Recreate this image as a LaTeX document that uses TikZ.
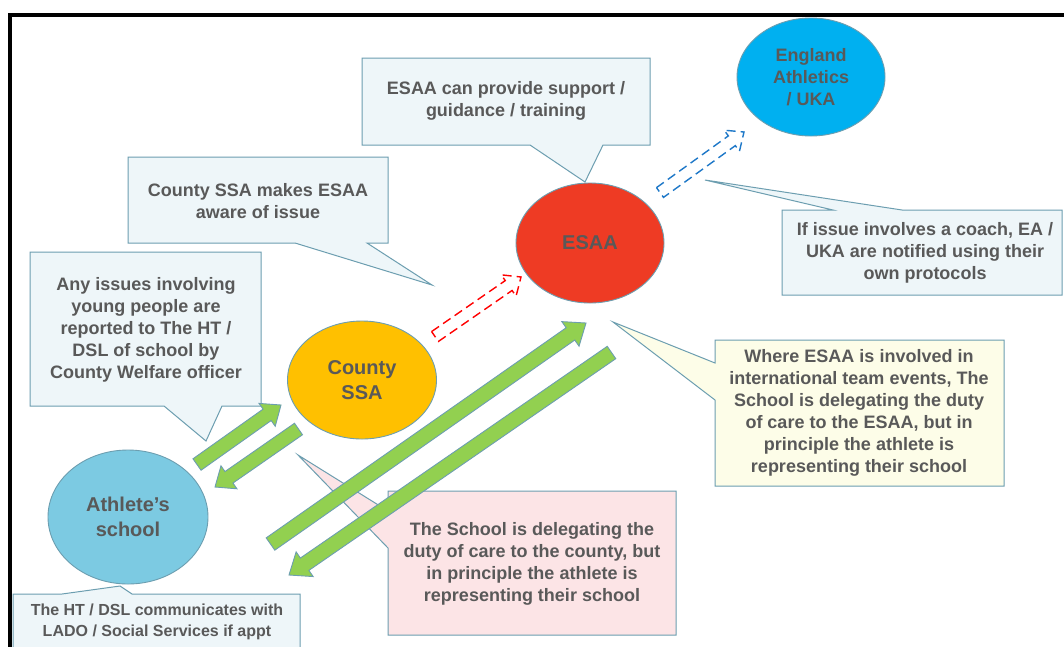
\documentclass[tikz,border=0pt]{standalone}
\usepackage{fontspec}
\setmainfont{Liberation Sans}
\usetikzlibrary{calc,shapes.geometric}
\definecolor{cfill}{RGB}{238,246,249}
\definecolor{cborder}{RGB}{108,158,176}
\definecolor{yfill}{RGB}{253,253,232}
\definecolor{pfill}{RGB}{252,228,230}
\definecolor{tgray}{RGB}{89,89,89}
\definecolor{agreen}{RGB}{146,208,80}
\definecolor{eablue}{RGB}{0,176,240}
\definecolor{esared}{RGB}{238,59,36}
\definecolor{cssa}{RGB}{255,192,0}
\definecolor{school}{RGB}{124,202,226}
\definecolor{dred}{RGB}{255,0,0}
\definecolor{dblue}{RGB}{30,120,200}
\newcommand\blockarr[6]{%
  \coordinate (hb) at ($(#2)!#5!(#1)$);
  \draw[#6] ($(#1)!#3!90:(#2)$) -- ($(hb)!#3!-90:(#1)$) -- ($(hb)!#4!-90:(#1)$) -- (#2)
    -- ($(hb)!#4!90:(#1)$) -- ($(hb)!#3!90:(#1)$) -- ($(#1)!#3!-90:(#2)$) -- cycle;}
\begin{document}
\begin{tikzpicture}[x=1pt,y=-1pt,
  callout/.style={draw=cborder,fill=cfill,line width=1pt,line join=miter},
  ctext/.style={text=tgray,font=\fontsize{18}{22}\selectfont\bfseries,align=center,inner sep=0pt},
  stext/.style={text=tgray,font=\fontsize{16}{21}\selectfont\bfseries,align=center,inner sep=0pt},
  ell/.style={ellipse,draw=cborder,line width=0.9pt,inner sep=0pt,text=tgray,align=center,
    font=\fontsize{20}{25}\selectfont\bfseries},
  garrow/.style={fill=agreen,draw=cborder,line width=0.9pt,line join=miter},
  darrow/.style={line width=1.4pt,dash pattern=on 9pt off 5pt,line join=miter}]
\useasboundingbox (0,0) rectangle (1064,646);
\clip (0,0) rectangle (1064,646);
\fill[white] (0,0) rectangle (1064,646);
\draw[line width=4pt] (10,680) -- (10,15) -- (1090,15);

% callouts
\draw[callout] (362,58) -- (650,58) -- (650,145) -- (603,145) -- (585,182) -- (530,145) -- (362,145) -- cycle;
\node[ctext] (c1) at (506,101) {ESAA can provide support /\\guidance / training};

\draw[callout] (128,157) -- (388,157) -- (388,243) -- (367,243) -- (432,285) -- (295,243) -- (128,243) -- cycle;
\node[ctext] (c2) at (258,201) {County SSA makes ESAA\\aware of issue};

\draw[callout] (30,252) -- (261,252) -- (261,406) -- (222,406) -- (206,441) -- (164,406) -- (30,406) -- cycle;
\node[ctext] (c3) at (146,330) {Any issues involving\\young people are\\reported to The HT /\\DSL of school by\\County Welfare officer};

\draw[callout] (782,210) -- (833,210) -- (705,180) -- (902,210) -- (1062,210) -- (1062,295) -- (782,295) -- cycle;
\node[ctext] (c4) at (925,253) {If issue involves a coach, EA /\\UKA are notified using their\\own protocols};

\draw[callout,fill=yfill] (715,340) -- (1004,340) -- (1004,486) -- (715,486) -- (715,400) -- (613,322) -- (715,363) -- cycle;
\node[ctext] (c5) at (859,413) {Where ESAA is involved in\\international team events, The\\School is delegating the duty\\of care to the ESAA, but in\\principle the athlete is\\representing their school};

\draw[callout,fill=pfill] (388,491) -- (676,491) -- (676,635) -- (388,635) -- (388,548) -- (298,455) -- (388,511) -- cycle;
\node[ctext] (c6) at (532,564) {The School is delegating the\\duty of care to the county, but\\in principle the athlete is\\representing their school};

\draw[callout] (13,594) -- (62,594) -- (120,586) -- (132,594) -- (300,594) -- (300,680) -- (13,680) -- cycle;
\node[stext] (c7) at (157,621.5) {The HT / DSL communicates with\\LADO / Social Services if appt};

% ellipses
\node[ell,fill=eablue,minimum width=148pt,minimum height=118pt,font=\fontsize{18}{22}\selectfont\bfseries] (ea) at (811,77) {England\\Athletics\\/ UKA};
\node[ell,fill=esared,minimum width=148pt,minimum height=120pt] (esaa) at (590,243) {ESAA};
\node[ell,fill=cssa,minimum width=149pt,minimum height=118pt] (county) at (362,380) {County\\SSA};
\node[ell,fill=school,minimum width=160pt,minimum height=134pt] (school) at (128,517) {Athlete’s\\school};

% arrow end points
\coordinate (a1s) at (197,464.5);  \coordinate (a1e) at (281,405);
\coordinate (a2s) at (298.5,429);  \coordinate (a2e) at (215,487);
\coordinate (a3s) at (270.5,544);  \coordinate (a3e) at (586,323);
\coordinate (a4s) at (611.5,352.5);\coordinate (a4e) at (289,575);
\coordinate (r1s) at (435,336.5);  \coordinate (r1e) at (521,277);
\coordinate (b1s) at (660,192.5);  \coordinate (b1e) at (744,132);

\blockarr{a1s}{a1e}{7pt}{14pt}{17pt}{garrow}
\blockarr{a2s}{a2e}{7pt}{14pt}{17pt}{garrow}
\blockarr{a3s}{a3e}{7.5pt}{15pt}{19pt}{garrow}
\blockarr{a4s}{a4e}{7.5pt}{15pt}{19pt}{garrow}
\blockarr{r1s}{r1e}{6pt}{13pt}{15pt}{darrow,draw=dred}
\blockarr{b1s}{b1e}{6pt}{13pt}{15pt}{darrow,draw=dblue}
\end{tikzpicture}
\end{document}
